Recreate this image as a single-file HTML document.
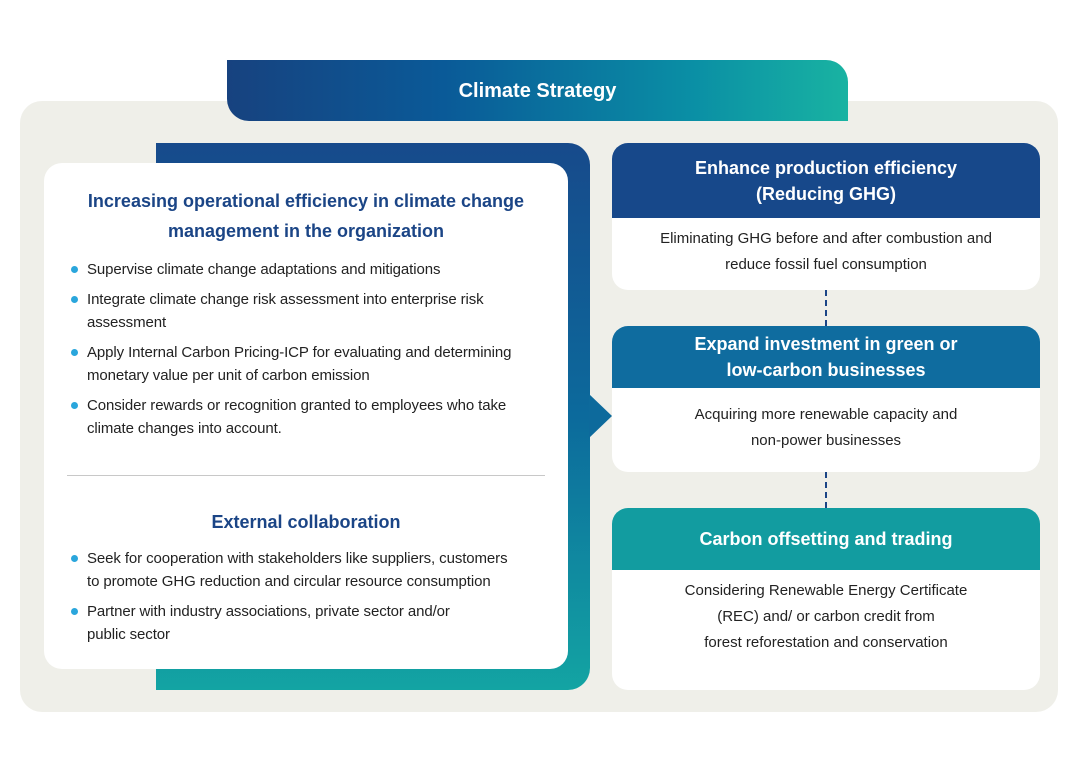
<!DOCTYPE html>
<html><head><meta charset="utf-8"><style>
*{margin:0;padding:0;box-sizing:border-box}
body{width:1080px;height:776px;background:#fff;position:relative;overflow:hidden;font-family:"Liberation Sans",sans-serif}
.a{position:absolute}
.bg{left:20px;top:101px;width:1038px;height:611px;background:#efefe9;border-radius:22px}
.hdr{left:227px;top:60px;width:621px;height:61px;background:linear-gradient(90deg,#17427f 0%,#0a5a98 35%,#0a8fa5 75%,#19b3a2 100%);border-radius:0 22px 0 22px;color:#fff;font-weight:bold;font-size:20px;text-align:center;line-height:63px}
.back{left:156px;top:143px;width:434px;height:547px;background:linear-gradient(180deg,#174a8b 0%,#0c6a9c 50%,#13a4a3 100%);border-radius:0 22px 22px 0}
.arrow{left:589px;top:394px;width:0;height:0;border-top:22px solid transparent;border-bottom:22px solid transparent;border-left:23px solid #0d6a9c}
.card{left:44px;top:163px;width:524px;height:506px;background:#fff;border-radius:18px}
.t{color:#1b4586;font-weight:bold;font-size:18px;text-align:center}
ul{list-style:none}
li{position:relative;padding-left:43px;font-size:15px;line-height:23px;color:#222;margin-bottom:7px;white-space:nowrap;letter-spacing:-0.1px}
li:before{content:"";position:absolute;left:27px;top:8px;width:7px;height:7px;border-radius:50%;background:#2aa6dc}
.box{left:612px;width:428px;background:#fff;border-radius:16px;overflow:hidden}
.bh{color:#fff;font-weight:bold;font-size:18px;text-align:center;line-height:26px;display:flex;align-items:center;justify-content:center}
.bb{font-size:15px;line-height:26px;color:#222;text-align:center}
.dash{left:825px;width:0;border-left:2px dashed #1b4586}
</style></head><body>
<div class="a bg"></div>
<div class="a hdr">Climate Strategy</div>
<div class="a back"></div>
<div class="a arrow"></div>
<div class="a card">
 <div class="t" style="margin-top:23px;line-height:30px">Increasing operational efficiency in climate change<br>management in the organization</div>
 <ul style="margin-top:12px">
  <li>Supervise climate change adaptations and mitigations</li>
  <li>Integrate climate change risk assessment into enterprise risk<br>assessment</li>
  <li>Apply Internal Carbon Pricing-ICP for evaluating and determining<br>monetary value per unit of carbon emission</li>
  <li>Consider rewards or recognition granted to employees who take<br>climate changes into account.</li>
 </ul>
</div>
<div class="a" style="left:67px;top:475px;width:478px;height:1px;background:#c8c8c8"></div>
<div class="a t" style="left:44px;top:509px;width:524px;line-height:26px">External collaboration</div>
<ul class="a" style="left:44px;top:547px;width:524px">
 <li>Seek for cooperation with stakeholders like suppliers, customers<br>to promote GHG reduction and circular resource consumption</li>
 <li>Partner with industry associations, private sector and/or<br>public sector</li>
</ul>

<div class="a box" style="top:143px;height:147px">
 <div class="bh" style="height:75px;background:#17488a">Enhance production efficiency<br>(Reducing GHG)</div>
 <div class="bb" style="padding-top:8px">Eliminating GHG before and after combustion and<br>reduce fossil fuel consumption</div>
</div>
<div class="a dash" style="top:290px;height:36px"></div>
<div class="a box" style="top:326px;height:146px">
 <div class="bh" style="height:62px;background:#0f6c9f">Expand investment in green or<br>low-carbon businesses</div>
 <div class="bb" style="padding-top:14px">Acquiring more renewable capacity and<br>non-power businesses</div>
</div>
<div class="a dash" style="top:472px;height:36px"></div>
<div class="a box" style="top:508px;height:182px">
 <div class="bh" style="height:62px;background:#129ca0">Carbon offsetting and trading</div>
 <div class="bb" style="padding-top:8px">Considering Renewable Energy Certificate<br>(REC) and/ or carbon credit from<br>forest reforestation and conservation</div>
</div>
</body></html>
